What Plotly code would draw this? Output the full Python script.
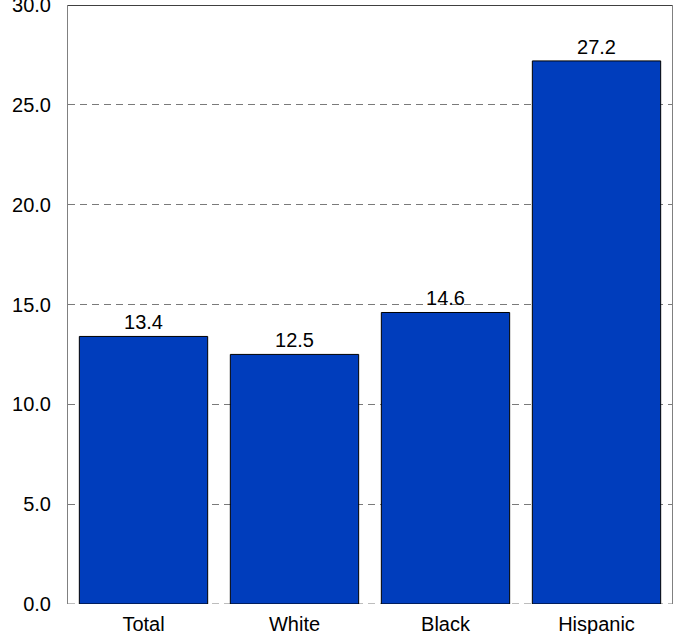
import plotly.graph_objects as go

categories = ["Total", "White", "Black", "Hispanic"]
values = [13.4, 12.5, 14.6, 27.2]
value_labels = ["13.4", "12.5", "14.6", "27.2"]
y_ticks = [0, 5, 10, 15, 20, 25, 30]
y_tick_labels = ["0.0", "5.0", "10.0", "15.0", "20.0", "25.0", "30.0"]

FONT = "Liberation Sans, Arial, Helvetica, sans-serif"

fig = go.Figure(
    go.Bar(
        x=categories,
        y=values,
        text=value_labels,
        textposition="outside",
        textfont=dict(family=FONT, size=20, color="black"),
        marker=dict(color="#003DBC", line=dict(color="black", width=1)),
        cliponaxis=False,
        width=0.85,
    )
)

fig.update_layout(
    width=673,
    height=634,
    autosize=False,
    margin=dict(l=68, r=1, t=5, b=30, autoexpand=False),
    paper_bgcolor="white",
    plot_bgcolor="white",
    showlegend=False,
    font=dict(family=FONT, size=20, color="black"),
    xaxis=dict(
        range=[-0.5, 3.5],
        showgrid=False,
        zeroline=False,
        showline=False,
        ticks="",
        ticklabelstandoff=6,
        ticklabeloverflow="allow",
        automargin=False,
        tickfont=dict(family=FONT, size=20, color="black"),
    ),
    yaxis=dict(
        range=[0, 30],
        tickvals=y_ticks,
        ticktext=y_tick_labels,
        showgrid=True,
        gridcolor="#7a7a7a",
        gridwidth=1,
        griddash="7px,5px",
        zeroline=False,
        showline=True,
        linecolor="#808080",
        linewidth=1,
        mirror=True,
        ticks="",
        ticklabelstandoff=12,
        ticklabeloverflow="allow",
        automargin=False,
        tickfont=dict(family=FONT, size=20, color="black"),
    ),
    shapes=[
        dict(type="line", xref="paper", yref="y", x0=0, x1=1, y0=30, y1=30,
             line=dict(color="black", width=1.5), layer="above"),
        dict(type="line", xref="paper", yref="y", x0=0, x1=1, y0=0, y1=0,
             line=dict(color="#7a7a7a", width=1, dash="7px,5px"), layer="below"),
    ],
)

fig.write_html(
    "out.html",
    config={"displayModeBar": False},
    post_script="document.body.style.margin='0';document.body.style.overflow='hidden';",
)
